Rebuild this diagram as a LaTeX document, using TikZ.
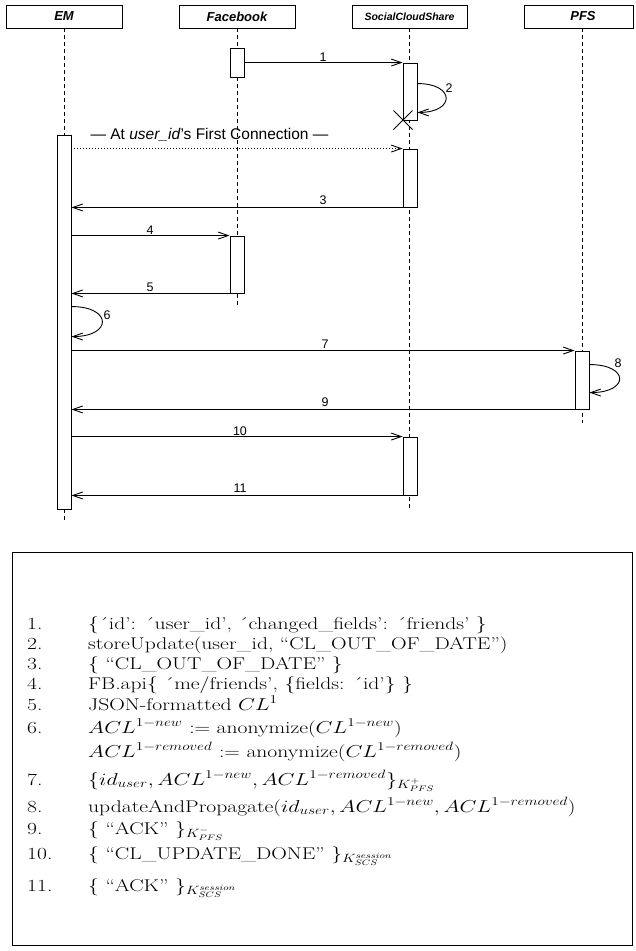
\documentclass[tikz,border=0pt]{standalone}
\usepackage{fontspec}
\setsansfont{Liberation Sans}
\usetikzlibrary{arrows.meta}
\newcommand\stretchtxt[1]{\scalebox{1.27}[1]{#1}}
\begin{document}
\begin{tikzpicture}[x=1pt,y=-1pt,
  hdr/.style={draw, line width=0.9pt, inner sep=0, minimum height=23pt, font=\sffamily\bfseries\itshape\fontsize{13}{15}\selectfont},
  act/.style={draw, fill=white, line width=0.9pt, minimum width=14pt, inner sep=0},
  life/.style={line width=0.9pt, dash pattern=on 4pt off 3pt},
  msg/.style={line width=0.9pt, -{Straight Barb[length=10pt,width=7pt,line width=0.9pt]}},
  num/.style={font=\sffamily\fontsize{12.5}{14}\selectfont, inner sep=0},
  itemnum/.style={font=\fontsize{17}{20}\selectfont, anchor=base west, inner sep=0},
  itemtxt/.style={font=\fontsize{17}{20}\selectfont, anchor=base west, inner sep=0}]
\useasboundingbox (0,0) rectangle (635,951);
% headers
\node[hdr, minimum width=116pt] (em) at (64,16.5) {EM};
\node[hdr, minimum width=116pt] (fb) at (237,16.5) {Facebook};
\node[hdr, minimum width=115pt, font=\sffamily\bfseries\itshape\fontsize{10.5}{12}\selectfont] (scs) at (409.5,16.5) {SocialCloudShare};
\node[hdr, minimum width=109pt] (pfs) at (578.5,16.5) {\hspace*{9pt}PFS};
% lifeline ends
\coordinate (emEnd) at (64,522);
\coordinate (fbEnd) at (237,305);
\coordinate (scsEnd) at (409.5,508);
\coordinate (pfsEnd) at (582,423);
\draw[life] (fb.south) -- (fbEnd);
\draw[life] (scs.south) -- (scsEnd);
\draw[life] (pfs.south -| pfsEnd) -- (pfsEnd);
% activations
\node[act, minimum height=374pt] (em1) at (64,322) {};
\node[act, minimum height=29pt] (fb1) at (237,62.5) {};
\node[act, minimum height=57pt] (scs1) at (410,91.5) {};
\node[act, minimum height=58pt] (scs2) at (410,178) {};
\node[act, minimum height=57pt] (fb2) at (237,264.5) {};
\node[act, minimum height=58pt] (pfs1) at (582,380) {};
\node[act, minimum height=58pt] (scs3) at (410,466) {};
\draw[life] (em.south) -- (em1.north);
\draw[life] (em1.south) -- (emEnd);
% destruction mark
\coordinate (xc) at (403,120);
\draw[line width=0.9pt] ([shift={(-9.5pt,9.5pt)}]xc) -- ([shift={(9.5pt,-9.5pt)}]xc);
\draw[line width=0.9pt] ([shift={(-9.5pt,-9.5pt)}]xc) -- ([shift={(9.5pt,9.5pt)}]xc);
% messages
\draw[msg] (fb1.east) -- (scs1.north west);
\node[num] (l1) at (323,57) {1};
\draw[msg] ([yshift=-21pt]scs1.north east) .. controls +(38,0) and +(38,0) .. ([yshift=8pt]scs1.south east);
\node[num] (l2) at (449,88) {2};
\draw[msg, dash pattern=on 1pt off 2pt] (em1.east |- scs2.north west) -- (scs2.north west);
\node[font=\sffamily\fontsize{15.5}{17}\selectfont, inner sep=0] (first) at (209.5,135) {--- At \textit{user\_id}'s First Connection ---};
\draw[msg] (scs2.south west) -- (em1.east |- scs2.south west);
\node[num] (l3) at (323,200) {3};
\draw[msg] (em1.east |- fb2.north west) -- (fb2.north west);
\node[num] (l4) at (150,230) {4};
\draw[msg] (fb2.south west) -- (em1.east |- fb2.south west);
\node[num] (l5) at (150,287) {5};
\draw[msg] ([yshift=-172pt]em1.north east) .. controls +(41,0) and +(41,0) .. ([yshift=-202pt]em1.north east);
\node[num] (l6) at (107,315) {6};
\draw[msg] (em1.east |- pfs1.north west) -- (pfs1.north west);
\node[num] (l7) at (325,344) {7};
\draw[msg] ([yshift=-14pt]pfs1.north east) .. controls +(40,0) and +(40,0) .. ([yshift=-42pt]pfs1.north east);
\node[num] (l8) at (618,363) {8};
\draw[msg] (pfs1.south west) -- (em1.east |- pfs1.south west);
\node[num] (l9) at (325,402) {9};
\draw[msg] (em1.east |- scs3.north west) -- (scs3.north west);
\node[num] (l10) at (240,431) {10};
\draw[msg] (scs3.south west) -- (em1.east |- scs3.south west);
\node[num] (l11) at (240,488) {11};
% legend box
\draw[line width=0.9pt] (12,552) rectangle (632,945);
\node[itemnum] (n1) at (27,629) {\stretchtxt{1.}};
\node[itemtxt] (t1) at (88,629) {\stretchtxt{\{´id’: ´user\_id’, ´changed\_fields’: ´friends’ \}}};
\node[itemnum] (n2) at (27,649) {\stretchtxt{2.}};
\node[itemtxt] (t2) at (88,649) {\stretchtxt{storeUpdate(user\_id, “CL\_OUT\_OF\_DATE”)}};
\node[itemnum] (n3) at (27,669) {\stretchtxt{3.}};
\node[itemtxt] (t3) at (88,669) {\stretchtxt{\{ “CL\_OUT\_OF\_DATE” \}}};
\node[itemnum] (n4) at (27,689) {\stretchtxt{4.}};
\node[itemtxt] (t4) at (88,689) {\stretchtxt{FB.api\{ ´me/friends’, \{fields: ´id’\} \}}};
\node[itemnum] (n5) at (27,710) {\stretchtxt{5.}};
\node[itemtxt] (t5) at (88,710) {\stretchtxt{JSON-formatted $CL^1$}};
\node[itemnum] (n6) at (27,733) {\stretchtxt{6.}};
\node[itemtxt] (t6) at (88,733) {\stretchtxt{$ACL^{1-new}$ := anonymize($CL^{1-new}$)}};
\node[itemtxt] (t6b) at (88,757) {\stretchtxt{$ACL^{1-removed}$ := anonymize($CL^{1-removed}$)}};
\node[itemnum] (n7) at (27,785) {\stretchtxt{7.}};
\node[itemtxt] (t7) at (88,785) {\stretchtxt{$\{id_{user}, ACL^{1-new}, ACL^{1-removed}\}_{K^{+}_{PFS}}$}};
\node[itemnum] (n8) at (27,812) {\stretchtxt{8.}};
\node[itemtxt] (t8) at (88,812) {\stretchtxt{updateAndPropagate($id_{user}, ACL^{1-new}, ACL^{1-removed}$)}};
\node[itemnum] (n9) at (27,834) {\stretchtxt{9.}};
\node[itemtxt] (t9) at (88,834) {\stretchtxt{\{ “ACK” \}$_{K^{-}_{PFS}}$}};
\node[itemnum] (n10) at (27,859) {\stretchtxt{10.}};
\node[itemtxt] (t10) at (88,859) {\stretchtxt{\{ “CL\_UPDATE\_DONE” \}$_{K^{session}_{SCS}}$}};
\node[itemnum] (n11) at (27,891) {\stretchtxt{11.}};
\node[itemtxt] (t11) at (88,891) {\stretchtxt{\{ “ACK” \}$_{K^{session}_{SCS}}$}};
\end{tikzpicture}
\end{document}
